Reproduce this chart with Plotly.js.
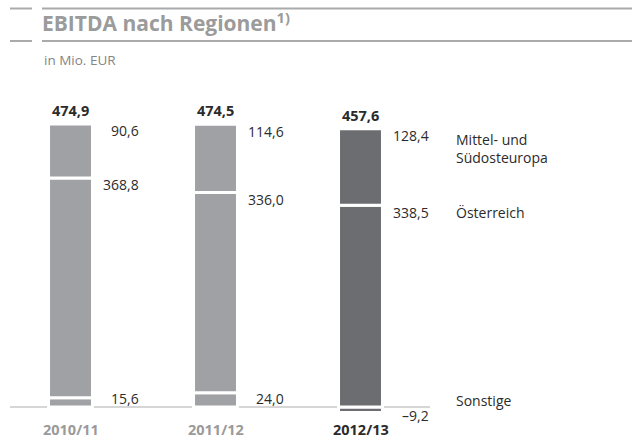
<!DOCTYPE html>
<html>
<head>
<meta charset="utf-8">
<script src="https://cdn.plot.ly/plotly-3.0.1.min.js"></script>
<style>html,body{margin:0;padding:0;background:#fff;}#chart{width:632px;height:439px;}</style>
</head>
<body>
<div id="chart"></div>
<script>
const years = ['2010/11', '2011/12', '2012/13'];
const moe = [90.6, 114.6, 128.4];
const oest = [368.8, 336.0, 338.5];
const sonst = [15.6, 24.0, -9.2];
const totals = [474.9, 474.5, 457.6];
const regionLabels = ['Mittel- und<br>Südosteuropa', 'Österreich', 'Sonstige'];

const FONT = '"Open Sans", "Noto Sans", sans-serif';
const barColors = ['#a0a1a4', '#a0a1a4', '#6c6d71'];
const yearColors = ['#9a9a9a', '#9a9a9a', '#2b2b2b'];
const TXT = '#2b2b2b';

function fmt(v) { return v.toFixed(1).replace('.', ',').replace('-', '\u2013'); }

const W = 632, H = 439;
const mL = 10, mR = 0, mT = 109, mB = 0;
const pw = W - mL - mR, ph = H - mT - mB;
const px = X => (X - mL) / pw;
const py = Y => (H - mB - Y) / ph;

const barWidth = 0.303;
const common = {type: 'bar', x: years, width: barWidth, hoverinfo: 'skip', showlegend: false,
  marker: {color: barColors, line: {color: '#ffffff', width: 3}}};
const traces = [
  Object.assign({}, common, {y: sonst, name: regionLabels[2]}),
  Object.assign({}, common, {y: oest, name: regionLabels[1]}),
  Object.assign({}, common, {y: moe, name: regionLabels[0]})
];

const ann = [];
const valFont = {family: FONT, size: 14, color: TXT};
years.forEach((yr, i) => {
  const posBase = Math.max(sonst[i], 0);
  const top = posBase + oest[i] + moe[i];
  ann.push({x: yr, y: top, text: '<b>' + fmt(totals[i]) + '</b>', showarrow: false,
    xanchor: 'center', yanchor: 'bottom', yshift: 2, font: {family: FONT, size: 14.5, color: TXT}});
  ann.push({x: yr, y: top, text: fmt(moe[i]), showarrow: false, xanchor: 'right', xshift: 70,
    yanchor: 'middle', yshift: -7, font: valFont});
  ann.push({x: yr, y: posBase + oest[i], text: fmt(oest[i]), showarrow: false, xanchor: 'right', xshift: 70,
    yanchor: 'middle', yshift: -7, font: valFont});
  ann.push({x: yr, y: 0, text: fmt(sonst[i]), showarrow: false, xanchor: 'right', xshift: 70,
    yanchor: 'middle', yshift: sonst[i] >= 0 ? 9 : -8, font: valFont});
  ann.push({x: yr, xref: 'x', y: py(429.5), yref: 'paper', text: '<b>' + yr + '</b>', showarrow: false,
    xanchor: 'center', yanchor: 'middle', borderpad: 0, font: {family: FONT, size: 14.5, color: yearColors[i]}});
});
const last = years.length - 1;
const lastTop = Math.max(sonst[last], 0) + oest[last] + moe[last];
ann.push({x: px(454), xref: 'paper', y: lastTop, text: regionLabels[0], showarrow: false, align: 'left',
  xanchor: 'left', yanchor: 'top', yshift: 1, font: valFont});
ann.push({x: px(454), xref: 'paper', y: Math.max(sonst[last], 0) + oest[last], text: regionLabels[1], showarrow: false,
  xanchor: 'left', yanchor: 'middle', yshift: -7, font: valFont});
ann.push({x: px(454), xref: 'paper', y: 0, text: regionLabels[2], showarrow: false,
  xanchor: 'left', yanchor: 'middle', yshift: 7, font: valFont});
ann.push({x: px(42), xref: 'paper', y: py(60), yref: 'paper', text: 'in Mio. EUR', showarrow: false,
  xanchor: 'left', yanchor: 'middle', font: {family: FONT, size: 13.5, color: '#858585'}});

const lineCol = '#a9aaac';
const shapes = [
  {type: 'line', xref: 'paper', yref: 'paper', x0: px(10), x1: px(32), y0: py(8.5), y1: py(8.5), line: {color: lineCol, width: 2}},
  {type: 'line', xref: 'paper', yref: 'paper', x0: px(42), x1: 1, y0: py(8.5), y1: py(8.5), line: {color: lineCol, width: 2}},
  {type: 'line', xref: 'paper', yref: 'paper', x0: px(10), x1: px(32), y0: py(41), y1: py(41), line: {color: lineCol, width: 2}},
  {type: 'line', xref: 'paper', yref: 'paper', x0: px(42), x1: 1, y0: py(41), y1: py(41), line: {color: lineCol, width: 2}},
  {type: 'line', xref: 'paper', yref: 'y', x0: px(10), x1: px(430), y0: 0, y1: 0, layer: 'below', line: {color: '#c8c8c8', width: 1.5}}
];

const p = 0.596;
const ymax = (407 - mT) / p;
const ymin = ymax - ph / p;
const catW = 145;
const xmin = -(70.5 - mL) / catW;
const xmax = xmin + pw / catW;

const layout = {
  width: W, height: H,
  margin: {l: mL, r: mR, t: mT, b: mB, pad: 0},
  paper_bgcolor: '#ffffff', plot_bgcolor: '#ffffff',
  barmode: 'relative',
  title: {text: '<b>EBITDA nach Regionen<sup>1)</sup></b>', x: 42 / W, xanchor: 'left', xref: 'container',
    y: 1 - 24 / H, yanchor: 'middle', yref: 'container', font: {family: FONT, size: 21, color: '#9b9b9b'}},
  xaxis: {type: 'category', range: [xmin, xmax], showticklabels: false, showgrid: false, zeroline: false, showline: false, ticks: '', fixedrange: true},
  yaxis: {range: [ymin, ymax], showticklabels: false, showgrid: false, zeroline: false, showline: false, ticks: '', fixedrange: true},
  annotations: ann,
  shapes: shapes,
  hovermode: false,
  showlegend: false
};

Plotly.newPlot('chart', traces, layout, {displayModeBar: false, staticPlot: true});
</script>
</body>
</html>
